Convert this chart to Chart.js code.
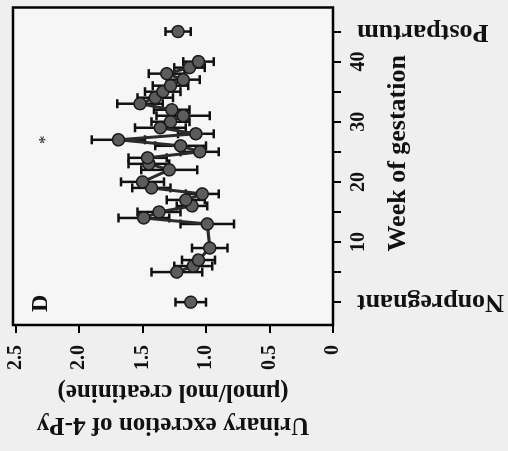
<!DOCTYPE html>
<html>
<head>
<meta charset="utf-8">
<script src="https://cdn.jsdelivr.net/npm/chart.js@4"></script>
<style>
  html, body { margin: 0; padding: 0; background: #efefef; overflow: hidden; }
  /* the published panel is turned on its side, so the chart is drawn upright and rotated */
  #wrap {
    position: absolute; left: 0; top: 451px;
    width: 451px; height: 508px;
    transform-origin: 0 0; transform: rotate(-90deg);
  }
</style>
</head>
<body>
<div id="wrap"><canvas id="chart4py" width="451" height="508"></canvas></div>
<script>
// gestation series: week, mean 4-Py excretion, error
const gestWeeks  = [5, 6, 7, 9, 13, 14, 15, 16, 17, 18, 19, 20, 22, 23, 24, 25, 26, 27, 28, 29, 30, 31, 32, 33, 34, 35, 36, 37, 38, 39, 40];
const gestValues = [1.23, 1.10, 1.06, 0.97, 0.99, 1.49, 1.37, 1.11, 1.16, 1.03, 1.43, 1.50, 1.29, 1.45, 1.46, 1.05, 1.20, 1.69, 1.08, 1.36, 1.28, 1.18, 1.27, 1.52, 1.40, 1.34, 1.28, 1.18, 1.31, 1.13, 1.06];
const gestErrors = [0.20, 0.15, 0.13, 0.14, 0.21, 0.20, 0.17, 0.12, 0.15, 0.13, 0.15, 0.17, 0.22, 0.16, 0.15, 0.15, 0.20, 0.21, 0.14, 0.20, 0.15, 0.21, 0.14, 0.18, 0.14, 0.14, 0.14, 0.13, 0.14, 0.12, 0.12];

// nonpregnant and postpartum reference points
const refWeeks  = [0, 45];
const refValues = [1.12, 1.22];
const refErrors = [0.12, 0.10];
const refLabels = ['Nonpregnant', 'Postpartum'];

const weekTicks  = [0, 5, 10, 15, 20, 25, 30, 35, 40, 45];
const weekLabels = [10, 20, 30, 40];
const valueTicks = [0, 0.5, 1.0, 1.5, 2.0, 2.5];

const starWeek = 27;
const starValue = 2.29;
const panelLetter = 'D';

const serif = "'Liberation Serif', 'Times New Roman', serif";

function toPoints(xs, ys) {
    return xs.map((x, i) => ({ x: x, y: ys[i] }));
}

function noPadding(axis) {
    axis.paddingTop = 0;
    axis.paddingBottom = 0;
    axis.paddingLeft = 0;
    axis.paddingRight = 0;
}

const extras = {
    id: 'extras',
    beforeDraw(chart) {
        const ctx = chart.ctx;
        ctx.save();
        ctx.fillStyle = '#efefef';
        ctx.fillRect(0, 0, chart.width, chart.height);
        ctx.fillStyle = '#f6f6f6';
        const a = chart.chartArea;
        ctx.fillRect(a.left, a.top, a.right - a.left, a.bottom - a.top);
        ctx.restore();
    },
    beforeDatasetsDraw(chart) {
        const ctx = chart.ctx;
        const xs = chart.scales.x, ys = chart.scales.y;
        ctx.save();
        ctx.strokeStyle = '#111';
        ctx.lineWidth = 2.5;
        chart.data.datasets.forEach(ds => {
            ds.data.forEach((p, i) => {
                const e = ds.errors[i];
                const px = xs.getPixelForValue(p.x);
                const lo = ys.getPixelForValue(p.y - e);
                const hi = ys.getPixelForValue(p.y + e);
                ctx.beginPath();
                ctx.moveTo(px, lo); ctx.lineTo(px, hi);
                ctx.moveTo(px - 4.5, lo); ctx.lineTo(px + 4.5, lo);
                ctx.moveTo(px - 4.5, hi); ctx.lineTo(px + 4.5, hi);
                ctx.stroke();
            });
        });
        ctx.restore();
    },
    afterDraw(chart) {
        const ctx = chart.ctx;
        const a = chart.chartArea;
        const xs = chart.scales.x, ys = chart.scales.y;
        ctx.save();
        // frame
        ctx.strokeStyle = '#000';
        ctx.lineWidth = 2.5;
        ctx.strokeRect(a.left, a.top, a.right - a.left, a.bottom - a.top);

        // end labels of the week axis, set vertically
        ctx.fillStyle = '#111';
        ctx.font = 'bold 26px ' + serif;
        ctx.textAlign = 'right';
        ctx.textBaseline = 'middle';
        refWeeks.forEach((w, i) => {
            ctx.save();
            ctx.translate(xs.getPixelForValue(w), a.bottom + 24);
            ctx.rotate(-Math.PI / 2);
            ctx.fillText(refLabels[i], 0, 0);
            ctx.restore();
        });

        // panel letter and significance mark
        ctx.textAlign = 'left';
        ctx.textBaseline = 'alphabetic';
        ctx.font = 'bold 24px ' + serif;
        ctx.fillText(panelLetter, a.left + 13, a.top + 34);
        ctx.textAlign = 'center';
        ctx.font = '17px ' + serif;
        ctx.fillText('*', xs.getPixelForValue(starWeek), ys.getPixelForValue(starValue) + 8);
        ctx.restore();
    }
};

const ctx = document.getElementById('chart4py').getContext('2d');

const chart = new Chart(ctx, {
    type: 'scatter',
    data: {
        datasets: [{
            label: 'Gestation',
            data: toPoints(gestWeeks, gestValues),
            errors: gestErrors,
            showLine: true,
            borderColor: '#2b2b2b',
            borderWidth: 3,
            pointRadius: 6,
            pointBackgroundColor: '#5c5c5c',
            pointBorderColor: '#1a1a1a',
            pointBorderWidth: 1.5
        }, {
            label: 'Reference',
            data: toPoints(refWeeks, refValues),
            errors: refErrors,
            showLine: false,
            pointRadius: 6,
            pointBackgroundColor: '#5c5c5c',
            pointBorderColor: '#1a1a1a',
            pointBorderWidth: 1.5
        }]
    },
    options: {
        responsive: false,
        animation: false,
        layout: { padding: { top: 13, right: 3, left: 0, bottom: 0 } },
        plugins: {
            legend: { display: false },
            tooltip: { enabled: false }
        },
        scales: {
            x: {
                type: 'linear',
                min: -3.8,
                max: 49,
                afterBuildTicks: axis => { axis.ticks = weekTicks.map(v => ({ value: v })); },
                afterFit: axis => { axis.height = 175; noPadding(axis); },
                border: { display: false },
                grid: { drawOnChartArea: false, color: '#000', lineWidth: 2, tickLength: 8 },
                ticks: {
                    autoSkip: false,
                    maxRotation: 0,
                    padding: 6,
                    color: '#111',
                    font: { family: serif, size: 20, weight: 'bold' },
                    callback: v => weekLabels.includes(v) ? String(v) : ''
                },
                title: {
                    display: true,
                    text: '    Week of gestation',
                    color: '#111',
                    font: { family: serif, size: 26, weight: 'bold' },
                    padding: { top: 0, bottom: 94 }
                }
            },
            y: {
                min: 0,
                max: 2.52,
                afterBuildTicks: axis => { axis.ticks = valueTicks.map(v => ({ value: v })); },
                afterFit: axis => { axis.width = 126; noPadding(axis); },
                border: { display: false },
                grid: { drawOnChartArea: false, color: '#000', lineWidth: 2, tickLength: 8 },
                ticks: {
                    padding: 12,
                    color: '#111',
                    font: { family: serif, size: 20, weight: 'bold' },
                    callback: v => v === 0 ? '0' : v.toFixed(1)
                },
                title: {
                    display: true,
                    text: ['Urinary excretion of 4-Py', '(\u03bcmol/mol creatinine)'],
                    color: '#111',
                    font: { family: serif, size: 25, weight: 'bold', lineHeight: 1.32 },
                    padding: { top: 10, bottom: 0 }
                }
            }
        }
    },
    plugins: [extras]
});
</script>
</body>
</html>
